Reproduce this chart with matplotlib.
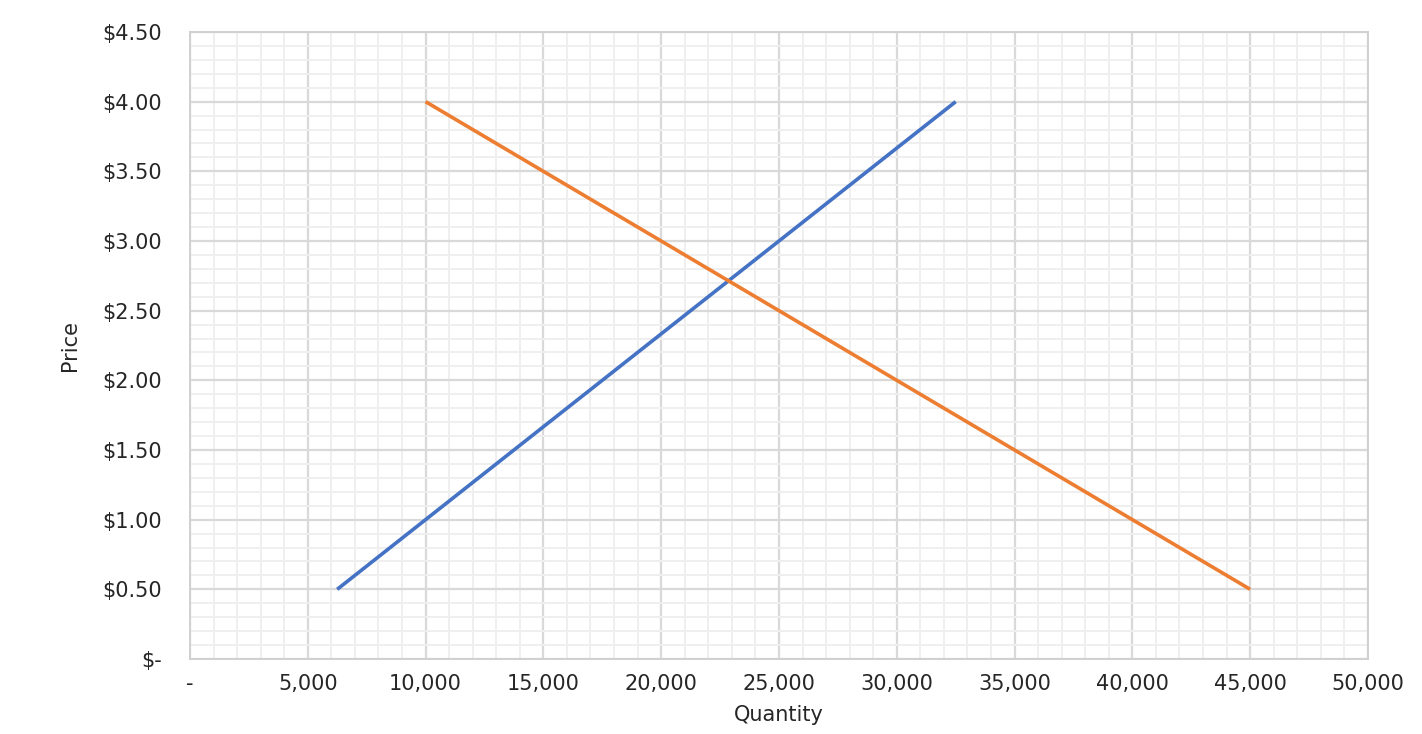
import matplotlib
matplotlib.use("Agg")
import matplotlib.pyplot as plt
from matplotlib.ticker import MultipleLocator, FuncFormatter

plt.rcParams['font.family'] = ['DejaVu Sans']

# Supply (blue) and demand (orange) schedules
prices = [0.5, 1.0, 1.5, 2.0, 2.5, 3.0, 3.5, 4.0]
supply_qty = [6250, 10000, 13750, 17500, 21250, 25000, 28750, 32500]
demand_qty = [45000, 40000, 35000, 30000, 25000, 20000, 15000, 10000]

fig = plt.figure(figsize=(14.22, 7.34), dpi=100)
ax = fig.add_axes([0.1336, 0.1022, 0.8284, 0.8542])

ax.plot(supply_qty, prices, color='#4472C4', lw=2.6, solid_capstyle='butt', zorder=3)
ax.plot(demand_qty, prices, color='#ED7D31', lw=2.6, solid_capstyle='butt', zorder=3)

ax.set_xlim(0, 50000)
ax.set_ylim(0, 4.5)
ax.xaxis.set_major_locator(MultipleLocator(5000))
ax.xaxis.set_minor_locator(MultipleLocator(1000))
ax.yaxis.set_major_locator(MultipleLocator(0.5))
ax.yaxis.set_minor_locator(MultipleLocator(0.1))

ax.xaxis.set_major_formatter(FuncFormatter(lambda v, p: '-' if v == 0 else f'{v:,.0f}'))
ax.yaxis.set_major_formatter(FuncFormatter(lambda v, p: '$-' if v == 0 else f'${v:.2f}'))

ax.grid(which='major', color='#d9d9d9', lw=1.6)
ax.grid(which='minor', color='#efefef', lw=1.4)
ax.set_axisbelow(True)

for s in ax.spines.values():
    s.set_color('#d0d0d0')
    s.set_linewidth(1.4)

ax.tick_params(which='both', length=0)
ax.tick_params(axis='x', labelsize=15, colors='#262626', pad=11)
ax.tick_params(axis='y', labelsize=15, colors='#262626', pad=20)

ax.set_xlabel('Quantity', fontsize=15, color='#262626', labelpad=8)
ax.set_ylabel('Price', fontsize=15, color='#262626', labelpad=16)

fig.savefig('out.png', dpi=100)
